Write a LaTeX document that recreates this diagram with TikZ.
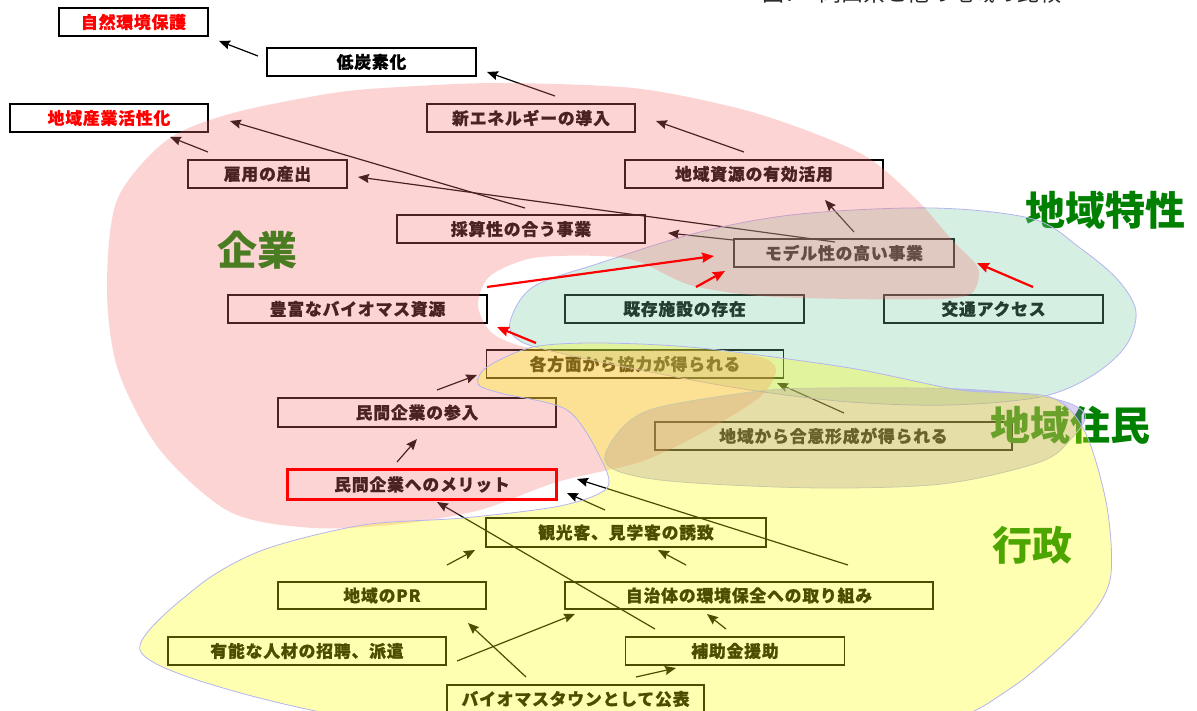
\documentclass[tikz,border=0pt]{standalone}
\usepackage{fontspec}
\newfontfamily\jp{Noto Sans CJK JP}
\newfontfamily\jpb{Noto Sans CJK JP}[LetterSpace=5, BoldFeatures={FakeBold=0.8}]
\usetikzlibrary{arrows.meta}
\definecolor{pinkf}{RGB}{248,115,115}
\definecolor{yelf}{RGB}{255,255,0}
\definecolor{grnf}{RGB}{122,205,165}
\definecolor{lavf}{RGB}{138,105,205}
\definecolor{outl}{RGB}{180,180,240}
\definecolor{lblg}{RGB}{0,128,0}
\definecolor{ttl}{RGB}{40,40,40}
\begin{document}
\begin{tikzpicture}[x=1pt,y=-1pt,
  box/.style={draw=black, line width=1.1pt, inner sep=0pt, minimum height=28pt, font=\jpb\bfseries\fontsize{16.8}{18}\selectfont},
  lbl/.style={font=\jp\bfseries\fontsize{40}{42}\selectfont, text=lblg, inner sep=0pt},
  arr/.style={line width=1.2pt, -{Stealth[length=11pt,width=9pt,inset=1.5pt]}},
  rarr/.style={red, line width=2.2pt, -{Stealth[length=12pt,width=10pt,inset=1.5pt]}},
  blob/.style={draw=outl, line width=0.8pt, fill opacity=0.3}
]
\useasboundingbox (0,0) rectangle (1197,711);
\fill[white] (0,0) rectangle (1197,711);

% title (cut off at top, as in the reference)
\node[font=\jp\fontsize{22}{24}\selectfont, text=ttl, anchor=base, inner sep=0pt] (ttl) at (912,2) {図7　岡山県と他の地域の比較};

% boxes
\node[box, minimum width=149pt, text=red] (n1) at (133.5,22) {自然環境保護};
\node[box, minimum width=209pt] (n2) at (371.5,62) {低炭素化};
\node[box, minimum width=198pt, text=red] (n3) at (109,118) {地域産業活性化};
\node[box, minimum width=208pt] (n4) at (531,118) {新エネルギーの導入};
\node[box, minimum width=159pt] (n5) at (267.5,174) {雇用の産出};
\node[box, minimum width=258pt] (n6) at (754,174) {地域資源の有効活用};
\node[box, minimum width=248pt] (n7) at (521,229) {採算性の合う事業};
\node[box, minimum width=220pt] (n8) at (844,253) {モデル性の高い事業};
\node[box, minimum width=259pt] (n9) at (357.5,309) {豊富なバイオマス資源};
\node[box, minimum width=239pt] (n10) at (684.5,309) {既存施設の存在};
\node[box, minimum width=219pt] (n11) at (993.5,309) {交通アクセス};
\node[box, minimum width=297pt] (n12) at (635,364) {各方面から協力が得られる};
\node[box, minimum width=278pt, minimum height=29pt] (n13) at (417,412.5) {民間企業の参入};
\node[box, minimum width=357pt] (n14) at (833.5,436) {地域から合意形成が得られる};
\node[box, draw=none, minimum width=267pt] (n15) at (422,484.5) {民間企業へのメリット};
\node[box, minimum width=280pt, minimum height=29pt] (n16) at (626,532.5) {観光客、見学客の誘致};
\node[box, minimum width=208pt, minimum height=27pt] (n17) at (382,595.5) {地域のPR};
\node[box, minimum width=368pt, minimum height=27pt] (n18) at (749,595.5) {自治体の環境保全への取り組み};
\node[box, minimum width=278pt] (n19) at (307,651) {有能な人材の招聘、派遣};
\node[box, minimum width=219pt] (n20) at (735,651) {補助金援助};
\node[box, minimum width=257pt] (n21) at (575.5,699) {バイオマスタウンとして公表};

% group labels
\node[lbl] (g1) at (257.5,250) {企業};
\node[lbl] (g2) at (1105.5,210) {地域特性};
\node[lbl] (g3) at (1070,425) {地域住民};
\node[lbl] (g4) at (1032.5,545) {行政};

% connector end points
\coordinate (a1s) at (258,56);   \coordinate (a1e) at (219,41);
\coordinate (a2s) at (555,96);   \coordinate (a2e) at (487,72);
\coordinate (a3s) at (744,152);  \coordinate (a3e) at (656,121);
\coordinate (a4s) at (854,232);  \coordinate (a4e) at (825,200);
\coordinate (a5s) at (835,242);  \coordinate (a5e) at (358,177);
\coordinate (a6s) at (525,208);  \coordinate (a6e) at (230,121);
\coordinate (a7s) at (733,240);  \coordinate (a7e) at (668,233);
\coordinate (a8s) at (208,152);  \coordinate (a8e) at (170,137);
\coordinate (a12s) at (844,413); \coordinate (a12e) at (777,383);
\coordinate (a14s) at (437,390); \coordinate (a14e) at (477,375);
\coordinate (a15s) at (397,462); \coordinate (a15e) at (417,439);
\coordinate (a16s) at (605,510); \coordinate (a16e) at (567,493);
\coordinate (a17s) at (848,565); \coordinate (a17e) at (577,479);
\coordinate (a18s) at (655,629); \coordinate (a18e) at (437,502);
\coordinate (a19s) at (447,565); \coordinate (a19e) at (475,550);
\coordinate (a20s) at (686,565); \coordinate (a20e) at (658,550);
\coordinate (a21s) at (457,661); \coordinate (a21e) at (575,614);
\coordinate (a22s) at (526,677); \coordinate (a22e) at (468,623);
\coordinate (a23s) at (726,629); \coordinate (a23e) at (707,614);
\coordinate (a24s) at (636,677); \coordinate (a24e) at (676,668);
\coordinate (a9s) at (487,287);  \coordinate (a9e) at (714,256);
\coordinate (a10s) at (696,287); \coordinate (a10e) at (725,271);
\coordinate (a11s) at (1033,287); \coordinate (a11e) at (977,263);
\coordinate (a13s) at (536,343); \coordinate (a13e) at (497,327);

\foreach \i in {1,2,3,4,5,6,7,8,12,14,15,16,17,18,19,20,21,22,23,24}
  \draw[arr] (a\i s) -- (a\i e);

% overlays
\path[blob, fill=grnf] plot[smooth cycle, tension=0.55] coordinates {
 (510,322) (533,287) (600,263) (700,232) (800,214) (933,208) (1033,219) (1080,248)
 (1118,280) (1136,312) (1125,347) (1090,377) (1040,397) (950,405) (850,402)
 (750,390) (650,372) (560,353) (520,341)};
\path[fill=pinkf, fill opacity=0.3] plot[smooth cycle, tension=0.5] coordinates {
 (107,290) (117,200) (167,140) (233,113) (333,93) (400,87) (500,83) (633,88) (733,107)
 (800,128) (867,157) (917,200) (952,240) (978,268) (972,293) (940,299) (850,299)
 (760,296) (690,285) (640,262) (600,256) (533,258) (490,276) (478,305) (492,333)
 (530,348) (600,351) (700,350) (760,357) (776,370) (760,397) (700,434) (640,462)
 (557,482) (480,510) (400,524) (313,528) (230,512) (160,450) (118,370)};
\path[blob, fill=lavf] plot[smooth cycle, tension=0.55] coordinates {
 (605,455) (625,425) (660,407) (760,391) (830,388) (960,389) (1050,398) (1085,414)
 (1070,440) (1040,462) (950,483) (850,488) (750,486) (660,480) (615,470)};
\path[blob, fill=yelf] plot[smooth cycle, tension=0.5] coordinates {
 (140,650) (197,587) (263,550) (363,525) (463,518) (560,506) (607,488) (600,457)
 (567,410) (500,393) (478,384) (487,367) (533,347) (600,343) (700,348) (850,368)
 (960,390) (1050,397) (1085,432) (1107,507) (1110,580) (1081,627) (1011,688)
 (930,725) (700,745) (400,725) (230,690)};

% red items on top
\draw[red, line width=3pt] (n15.north west) rectangle (n15.south east);
\foreach \i in {9,10,11,13}
  \draw[rarr] (a\i s) -- (a\i e);
\end{tikzpicture}
\end{document}
